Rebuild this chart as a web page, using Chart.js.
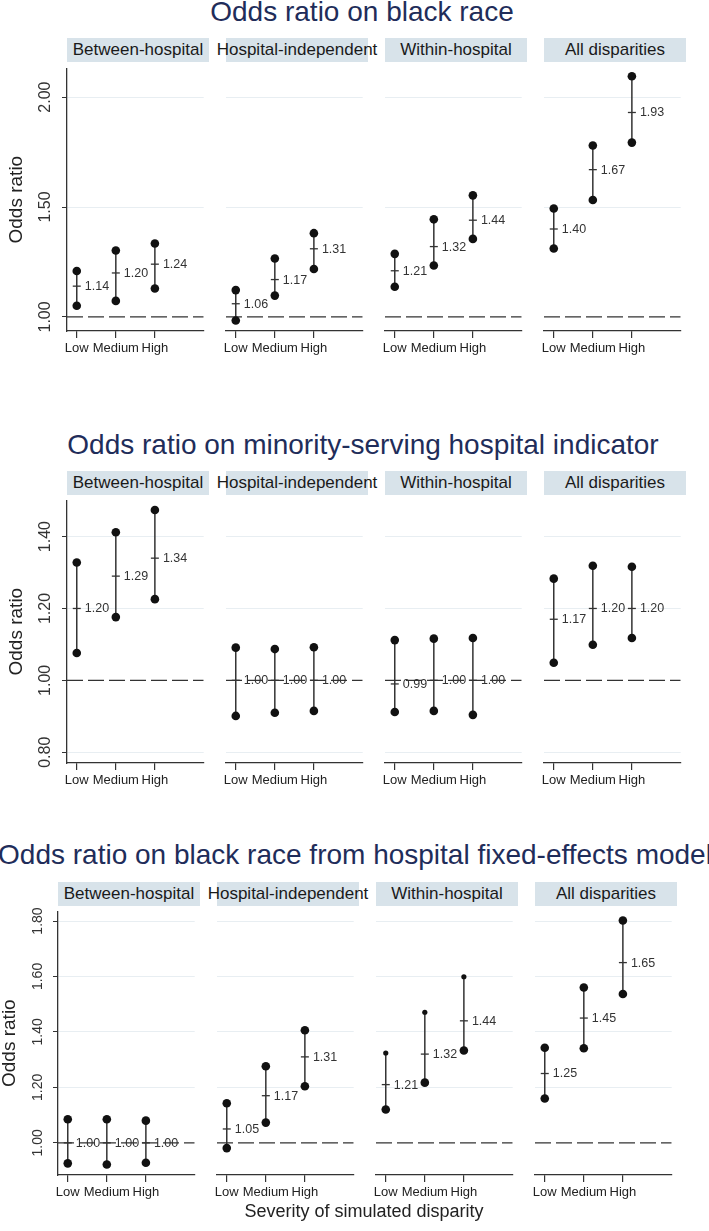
<!DOCTYPE html>
<html>
<head>
<meta charset="utf-8">
<script src="https://cdn.jsdelivr.net/npm/chart.js@4.4.1/dist/chart.umd.min.js"></script>
<style>
  body { margin: 0; background: #fff; font-family: "Liberation Sans", Arial, sans-serif; }
  #page { position: relative; width: 709px; height: 1231px; overflow: hidden; }
  .title { position: absolute; width: 800px; text-align: center; font-size: 28px; line-height: 28px; color: #1f2d5a; white-space: nowrap; }
  .strip { position: absolute; height: 24px; background: #d8e3ea; display: flex; align-items: center; justify-content: center; font-size: 17px; color: #1a1a1a; white-space: nowrap; }
  .xtitle { position: absolute; width: 400px; text-align: center; font-size: 18px; line-height: 18px; color: #222; }
  canvas { position: absolute; }
</style>
</head>
<body>
<div id="page"></div>
<script>
const panelNames = ['Between-hospital', 'Hospital-independent', 'Within-hospital', 'All disparities'];
const severity = ['Low', 'Medium', 'High'];
const rowTitles = [
    'Odds ratio on black race',
    'Odds ratio on minority-serving hospital indicator',
    'Odds ratio on black race from hospital fixed-effects model'
];
const xTitle = 'Severity of simulated disparity';
const yTitle = 'Odds ratio';
const refValue = 1;

// black race
const raceEst = [[1.14, 1.20, 1.24], [1.06, 1.17, 1.31], [1.21, 1.32, 1.44], [1.40, 1.67, 1.93]];
const raceLow = [[1.051, 1.073, 1.129], [0.984, 1.097, 1.218], [1.137, 1.234, 1.355], [1.311, 1.532, 1.793]];
const raceHigh = [[1.209, 1.302, 1.334], [1.122, 1.266, 1.381], [1.287, 1.444, 1.553], [1.493, 1.780, 2.095]];
const raceTicks = [1.00, 1.50, 2.00];

// minority-serving hospital indicator
const msEst = [[1.20, 1.29, 1.34], [1.00, 1.00, 1.00], [0.99, 1.00, 1.00], [1.17, 1.20, 1.20]];
const msLow = [[1.076, 1.176, 1.226], [0.901, 0.910, 0.915], [0.912, 0.915, 0.904], [1.049, 1.099, 1.118]];
const msHigh = [[1.328, 1.412, 1.474], [1.091, 1.087, 1.092], [1.112, 1.116, 1.118], [1.283, 1.319, 1.316]];
const msTicks = [0.80, 1.00, 1.20, 1.40];

// hospital fixed-effects model
const feEst = [[1.00, 1.00, 1.00], [1.05, 1.17, 1.31], [1.21, 1.32, 1.44], [1.25, 1.45, 1.65]];
const feLow = [[0.926, 0.922, 0.928], [0.981, 1.073, 1.204], [1.120, 1.217, 1.333], [1.160, 1.341, 1.537]];
const feHigh = [[1.085, 1.085, 1.080], [1.143, 1.276, 1.406], [1.324, 1.471, 1.599], [1.343, 1.560, 1.802]];
const feTicks = [1.00, 1.20, 1.40, 1.60, 1.80];

Chart.defaults.font.family = '"Liberation Sans", Arial, sans-serif';

const PANEL_W = 142;
const rows = [
    { est: raceEst, lo: raceLow, hi: raceHigh, ticks: raceTicks, yMin: 0.936, yMax: 2.131,
      top: 63, height: 268, lefts: [67, 226, 385, 544], stripTop: 38, titleTop: -2, titleCenter: 362,
      tickSize: 16, yTitlePad: 7.5, smallUpper: -1 },
    { est: msEst, lo: msLow, hi: msHigh, ticks: msTicks, yMin: 0.770, yMax: 1.501,
      top: 495, height: 268, lefts: [67, 226, 385, 544], stripTop: 471, titleTop: 431, titleCenter: 363,
      tickSize: 16, yTitlePad: 7.5, smallUpper: -1 },
    { est: feEst, lo: feLow, hi: feHigh, ticks: feTicks, yMin: 0.884, yMax: 1.835,
      top: 906, height: 269, lefts: [58, 217, 376, 535], stripTop: 882, titleTop: 841, titleCenter: 355,
      tickSize: 14, yTitlePad: 0, smallUpper: 2 }
];

const page = document.getElementById('page');

const estimateLabels = {
    id: 'estimateLabels',
    afterDatasetsDraw(chart) {
        const ctx = chart.ctx;
        chart.data.datasets.forEach((ds, di) => {
            if (!ds.isEstimate) return;
            chart.getDatasetMeta(di).data.forEach((pt, i) => {
                ctx.save();
                ctx.font = '12.5px "Liberation Sans", Arial, sans-serif';
                ctx.fillStyle = '#333';
                ctx.textBaseline = 'middle';
                ctx.fillText(ds.data[i].y.toFixed(2), pt.x + 8, pt.y + 0.5);
                ctx.restore();
            });
        });
    }
};

function addDiv(cls, text, css) {
    const d = document.createElement('div');
    d.className = cls;
    d.textContent = text;
    Object.assign(d.style, css);
    page.appendChild(d);
    return d;
}

function makePanel(row, p) {
    const first = p === 0;
    const yW = first ? row.lefts[0] : 14;
    const cv = document.createElement('canvas');
    cv.width = yW + PANEL_W;
    cv.height = row.height + 32;
    cv.style.left = (row.lefts[p] - yW) + 'px';
    cv.style.top = row.top + 'px';
    page.appendChild(cv);

    const datasets = [];
    for (let i = 0; i < severity.length; i++) {
        datasets.push({
            data: [{ x: i + 1, y: row.lo[p][i] }, { x: i + 1, y: row.hi[p][i] }],
            borderColor: '#333',
            borderWidth: 1.5,
            pointRadius: [4.3, row.smallUpper === p ? 2.6 : 4.3],
            pointBackgroundColor: '#111',
            pointBorderWidth: 0,
            clip: false
        });
    }
    datasets.push({
        isEstimate: true,
        showLine: false,
        data: row.est[p].map((v, i) => ({ x: i + 1, y: v })),
        pointStyle: 'line',
        pointRadius: 4,
        pointBorderColor: '#333',
        pointBorderWidth: 1.3,
        clip: false
    });
    datasets.push({
        data: [{ x: 0.75, y: refValue }, { x: 4.25, y: refValue }],
        borderColor: '#333',
        borderWidth: 1.3,
        borderDash: [16, 5],
        pointRadius: 0
    });

    new Chart(cv, {
        type: 'line',
        data: { datasets: datasets },
        options: {
            responsive: false,
            animation: false,
            devicePixelRatio: 1,
            events: [],
            layout: { padding: 0 },
            plugins: { legend: { display: false }, tooltip: { enabled: false } },
            scales: {
                x: {
                    type: 'linear', min: 0.75, max: 4.25,
                    afterBuildTicks: s => { s.ticks = severity.map((_, i) => ({ value: i + 1 })); },
                    afterFit: s => { s.height = 32; s.paddingLeft = 0; s.paddingRight = 0; },
                    grid: { drawOnChartArea: false, drawTicks: true, tickLength: 7, tickColor: '#333', color: '#333', lineWidth: 1.2 },
                    border: { display: true, color: '#333', width: 1.3 },
                    ticks: { autoSkip: false, maxRotation: 0, padding: 3, color: '#222', font: { size: 13 },
                             callback: (v, i) => severity[i] }
                },
                y: {
                    type: 'linear', min: row.yMin, max: row.yMax,
                    afterBuildTicks: s => { s.ticks = row.ticks.map(v => ({ value: v })); },
                    afterFit: s => { s.width = yW; s.paddingTop = 0; s.paddingBottom = 0; },
                    grid: {
                        color: c => (c.tick && Math.abs(c.tick.value - refValue) < 1e-9) ? 'rgba(0,0,0,0)' : '#e8eef2',
                        drawTicks: first, tickLength: 5, tickColor: '#333', lineWidth: 1
                    },
                    border: { display: first, color: '#333', width: 1.3 },
                    ticks: { display: first, minRotation: 90, maxRotation: 90, crossAlign: 'center', padding: 1,
                             color: '#333', font: { size: row.tickSize }, callback: v => v.toFixed(2) },
                    title: { display: first, text: yTitle, color: '#222', font: { size: 19, lineHeight: 1 },
                             padding: { top: row.yTitlePad, bottom: 0 } }
                }
            }
        },
        plugins: [estimateLabels]
    });
}

rows.forEach((row, r) => {
    addDiv('title', rowTitles[r], { left: (row.titleCenter - 400) + 'px', top: row.titleTop + 'px' });
    panelNames.forEach((name, p) => {
        addDiv('strip', name, { left: row.lefts[p] + 'px', top: row.stripTop + 'px', width: PANEL_W + 'px' });
        makePanel(row, p);
    });
});

addDiv('xtitle', xTitle, { left: (364 - 200) + 'px', top: '1202px' });
</script>
</body>
</html>
